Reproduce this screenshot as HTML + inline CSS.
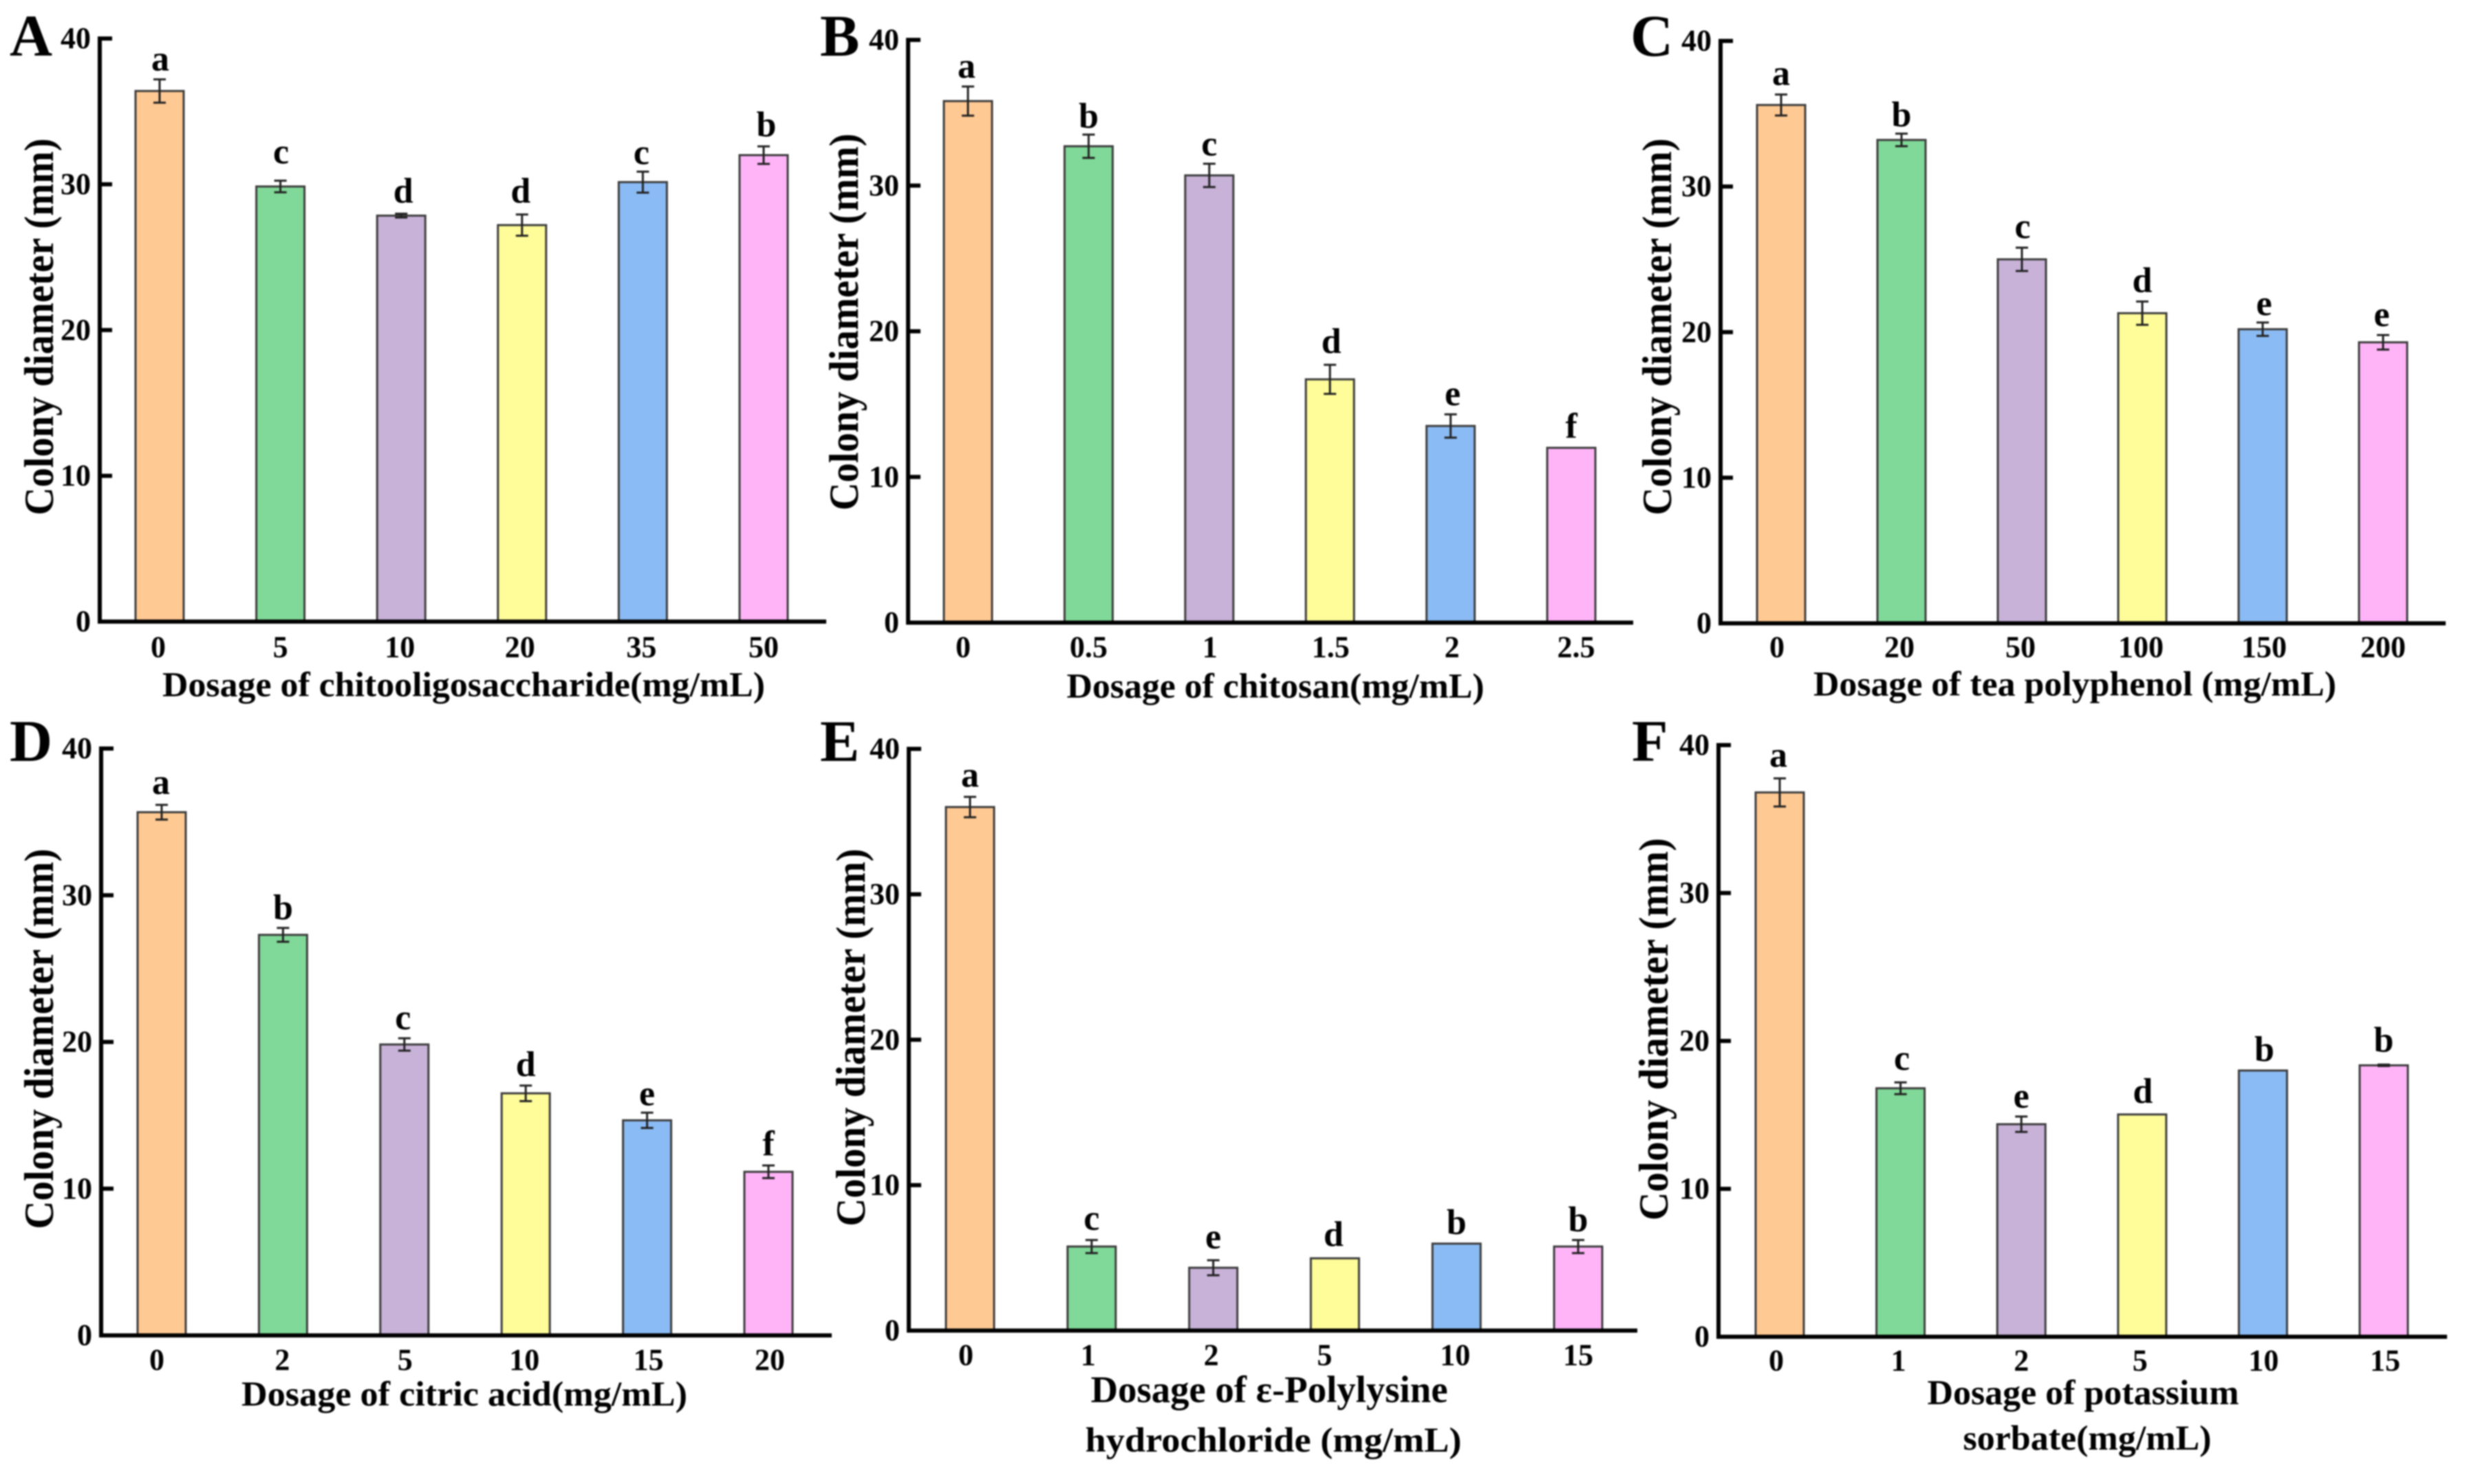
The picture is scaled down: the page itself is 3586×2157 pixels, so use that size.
<!DOCTYPE html>
<html lang="en">
<head>
<meta charset="utf-8">
<title>Colony diameter by preservative dosage</title>
<style>
html,body{margin:0;padding:0;background:#fff;}
#figure{display:block;width:3586px;height:2157px;filter:blur(1px);}
text{font-family:"Liberation Serif","DejaVu Serif",serif;font-weight:bold;fill:#000;}
.panel-letter{font-size:86px;}
.y-title{font-size:60px;}
.x-title{font-size:51px;}
.x-title-large{font-size:55px;}
.tick{font-size:44px;}
.sig{font-size:52px;}
</style>
</head>
<body>
<svg id="figure" xmlns="http://www.w3.org/2000/svg" width="3586" height="2157" viewBox="0 0 3586 2157">
  <rect x="0" y="0" width="3586" height="2157" fill="#ffffff"/>

  <g id="panel-a">
    <text class="panel-letter" x="14" y="81">A</text>
    <text class="y-title" x="77" y="475" text-anchor="middle" textLength="548" lengthAdjust="spacingAndGlyphs" transform="rotate(-90 77 475)">Colony diameter (mm)</text>
    <text class="x-title" x="674" y="1012" text-anchor="middle" textLength="876" lengthAdjust="spacingAndGlyphs">Dosage of chitooligosaccharide(mg/mL)</text>
  </g>

  <g id="panel-b">
    <text class="panel-letter" x="1192" y="81">B</text>
    <text class="y-title" x="1247" y="468" text-anchor="middle" textLength="548" lengthAdjust="spacingAndGlyphs" transform="rotate(-90 1247 468)">Colony diameter (mm)</text>
    <text class="x-title" x="1854" y="1014" text-anchor="middle" textLength="607" lengthAdjust="spacingAndGlyphs">Dosage of chitosan(mg/mL)</text>
  </g>

  <g id="panel-c">
    <text class="panel-letter" x="2370" y="81">C</text>
    <text class="y-title" x="2429" y="475" text-anchor="middle" textLength="548" lengthAdjust="spacingAndGlyphs" transform="rotate(-90 2429 475)">Colony diameter (mm)</text>
    <text class="x-title" x="3016" y="1011" text-anchor="middle" textLength="760" lengthAdjust="spacingAndGlyphs">Dosage of tea polyphenol (mg/mL)</text>
  </g>

  <g id="panel-d">
    <text class="panel-letter" x="14" y="1106">D</text>
    <text class="y-title" x="77" y="1510" text-anchor="middle" textLength="553" lengthAdjust="spacingAndGlyphs" transform="rotate(-90 77 1510)">Colony diameter (mm)</text>
    <text class="x-title" x="675" y="2043" text-anchor="middle" textLength="648" lengthAdjust="spacingAndGlyphs">Dosage of citric acid(mg/mL)</text>
  </g>

  <g id="panel-e">
    <text class="panel-letter" x="1192" y="1106">E</text>
    <text class="y-title" x="1257" y="1508" text-anchor="middle" textLength="549" lengthAdjust="spacingAndGlyphs" transform="rotate(-90 1257 1508)">Colony diameter (mm)</text>
    <text class="x-title-large" x="1845" y="2038" text-anchor="middle" textLength="519" lengthAdjust="spacingAndGlyphs">Dosage of ε-Polylysine</text>
    <text class="x-title" x="1851" y="2110" text-anchor="middle" textLength="547" lengthAdjust="spacingAndGlyphs">hydrochloride (mg/mL)</text>
  </g>

  <g id="panel-f">
    <text class="panel-letter" x="2372" y="1106">F</text>
    <text class="y-title" x="2424" y="1496" text-anchor="middle" textLength="556" lengthAdjust="spacingAndGlyphs" transform="rotate(-90 2424 1496)">Colony diameter (mm)</text>
    <text class="x-title" x="3028" y="2041" text-anchor="middle" textLength="453" lengthAdjust="spacingAndGlyphs">Dosage of potassium</text>
    <text class="x-title" x="3034" y="2107" text-anchor="middle" textLength="361" lengthAdjust="spacingAndGlyphs">sorbate(mg/mL)</text>
  </g>
</svg>

<script>
// ---- Shared axis data ----
const yTicks = [0, 10, 20, 30, 40];

// ---- Panel A: chitooligosaccharide ----
const panelACategories = ['0', '5', '10', '20', '35', '50'];
const panelAValues = [36.4, 29.85, 27.85, 27.2, 30.15, 32.0];
const panelAErrors = [0.8, 0.4, 0.13, 0.73, 0.72, 0.6];
const panelALetters = ['a', 'c', 'd', 'd', 'c', 'b'];

// ---- Panel B: chitosan ----
const panelBCategories = ['0', '0.5', '1', '1.5', '2', '2.5'];
const panelBValues = [35.8, 32.7, 30.7, 16.7, 13.5, 12.0];
const panelBErrors = [1.0, 0.8, 0.8, 1.0, 0.8, 0];
const panelBLetters = ['a', 'b', 'c', 'd', 'e', 'f'];

// ---- Panel C: tea polyphenol ----
const panelCCategories = ['0', '20', '50', '100', '150', '200'];
const panelCValues = [35.6, 33.2, 25.0, 21.3, 20.2, 19.3];
const panelCErrors = [0.72, 0.43, 0.8, 0.8, 0.46, 0.5];
const panelCLetters = ['a', 'b', 'c', 'd', 'e', 'e'];

// ---- Panel D: citric acid ----
const panelDCategories = ['0', '2', '5', '10', '15', '20'];
const panelDValues = [35.66, 27.3, 19.83, 16.5, 14.66, 11.15];
const panelDErrors = [0.5, 0.47, 0.42, 0.53, 0.52, 0.43];
const panelDLetters = ['a', 'b', 'c', 'd', 'e', 'f'];

// ---- Panel E: epsilon-polylysine hydrochloride ----
const panelECategories = ['0', '1', '2', '5', '10', '15'];
const panelEValues = [36.0, 5.78, 4.32, 4.97, 5.98, 5.78];
const panelEErrors = [0.7, 0.45, 0.52, 0, 0, 0.45];
const panelELetters = ['a', 'c', 'e', 'd', 'b', 'b'];

// ---- Panel F: potassium sorbate ----
const panelFCategories = ['0', '1', '2', '5', '10', '15'];
const panelFValues = [36.8, 16.8, 14.37, 15.03, 18.0, 18.35];
const panelFErrors = [0.95, 0.4, 0.52, 0, 0, 0.05];
const panelFLetters = ['a', 'c', 'e', 'd', 'b', 'b'];

const barColors = ['#FFC993', '#80D998', '#C8B2D8', '#FFFD99', '#8BBBF4', '#FFB4F8'];

const SVG_NS = 'http://www.w3.org/2000/svg';

function make(tag, attrs, parent) {
  const el = document.createElementNS(SVG_NS, tag);
  for (const k in attrs) el.setAttribute(k, attrs[k]);
  parent.appendChild(el);
  return el;
}

function drawPanel(id, cfg, categories, values, errors, letters) {
  const g = document.getElementById('panel-' + id);
  const yScale = function (v) { return cfg.y0 - v * (cfg.y0 - cfg.y40) / 40; };
  const xScale = function (i) { return cfg.x0 + i * cfg.step; };
  const barWidth = 70;

  categories.forEach(function (cat, i) {
    const cx = xScale(i);
    const top = yScale(values[i]);

    const bar = make('rect', {
      x: cx - barWidth / 2,
      y: top,
      width: barWidth,
      height: cfg.y0 - top,
      fill: barColors[i],
      stroke: '#3c3c3c',
      'stroke-width': 3
    }, g);
    
    

    if (errors[i] > 0) {
      const hi = yScale(values[i] + errors[i]);
      const lo = yScale(values[i] - errors[i]);
      const stem = make('line', { x1: cx, x2: cx, y1: hi, y2: lo, stroke: '#222', 'stroke-width': 3 }, g);
      
      
      const capHi = make('line', { x1: cx - 9, x2: cx + 9, y1: hi, y2: hi, stroke: '#222', 'stroke-width': 3 }, g);
      
      
      const capLo = make('line', { x1: cx - 9, x2: cx + 9, y1: lo, y2: lo, stroke: '#222', 'stroke-width': 3 }, g);
      
      
    }

    const sig = make('text', {
      class: 'sig',
      x: cx + cfg.letterDx[i],
      y: yScale(values[i] + errors[i]) - cfg.letterGap[i],
      'text-anchor': 'middle'
    }, g);
    sig.textContent = letters[i];
    
    

    const tick = make('text', {
      class: 'tick',
      x: cx + cfg.labelDx[i],
      y: cfg.tickBaseline,
      'text-anchor': 'middle'
    }, g);
    tick.textContent = cat;
    
    
  });

  const yAxis = make('line', { x1: cfg.axisX, x2: cfg.axisX, y1: cfg.y40 - 3, y2: cfg.y0 + 3, stroke: '#000', 'stroke-width': 6 }, g);
  
  

  const xAxis = make('line', { x1: cfg.axisX - 3, x2: cfg.axisEnd, y1: cfg.y0, y2: cfg.y0, stroke: '#000', 'stroke-width': 6 }, g);
  
  

  yTicks.forEach(function (t) {
    const yy = yScale(t);
    if (t > 0) {
      const mark = make('line', { x1: cfg.axisX, x2: cfg.axisX + 18, y1: yy, y2: yy, stroke: '#000', 'stroke-width': 6 }, g);
      
      
    }
    const label = make('text', { class: 'tick', x: cfg.axisX - 13, y: yy + 14, 'text-anchor': 'end' }, g);
    label.textContent = String(t);
    
    
  });
}

drawPanel('a', {
  axisX: 145, axisEnd: 1201, y40: 56, y0: 903.5, x0: 232, step: 175.6, tickBaseline: 955,
  labelDx: [-2, 0, -2, -3, -2, 0], letterDx: [1, 1, 3, -2, -2, 4], letterGap: [13, 25, 16, 17, 11, 15]
}, panelACategories, panelAValues, panelAErrors, panelALetters);

drawPanel('b', {
  axisX: 1320, axisEnd: 2374, y40: 58, y0: 905, x0: 1407, step: 175.4, tickBaseline: 955,
  labelDx: [-7, 0, 1, 1, 2, 7], letterDx: [-2, 0, 0, 2, 3, 0], letterGap: [13, 10, 12, 17, 13, 15]
}, panelBCategories, panelBValues, panelBErrors, panelBLetters);

drawPanel('c', {
  axisX: 2501, axisEnd: 3555, y40: 59.5, y0: 906, x0: 2589, step: 175, tickBaseline: 955,
  labelDx: [-6, -3, -2, -2, 2, 0], letterDx: [0, 0, 1, 0, 2, -2], letterGap: [14, 11, 14, 14, 11, 13]
}, panelCCategories, panelCValues, panelCErrors, panelCLetters);

drawPanel('d', {
  axisX: 147, axisEnd: 1209, y40: 1088, y0: 1941, x0: 235, step: 176.4, tickBaseline: 1991,
  labelDx: [-7, -1, 1, -2, 2, 2], letterDx: [-1, 0, -2, 0, 0, 0], letterGap: [16, 13, 13, 14, 11, 15]
}, panelDCategories, panelDValues, panelDErrors, panelDLetters);

drawPanel('e', {
  axisX: 1321, axisEnd: 2380, y40: 1088.5, y0: 1934, x0: 1410, step: 176.8, tickBaseline: 1984,
  labelDx: [-6, -5, -3, -15, -2, 0], letterDx: [0, 0, 0, -2, 0, 0], letterGap: [15, 15, 17, 18, 14, 13]
}, panelECategories, panelEValues, panelEErrors, panelELetters);

drawPanel('f', {
  axisX: 2498, axisEnd: 3557, y40: 1083, y0: 1943, x0: 2587, step: 175.6, tickBaseline: 1992,
  labelDx: [-5, -3, 0, -3, 1, 2], letterDx: [-2, 2, 0, 1, 2, 0], letterGap: [17, 18, 13, 17, 14, 19]
}, panelFCategories, panelFValues, panelFErrors, panelFLetters);
</script>
</body>
</html>
